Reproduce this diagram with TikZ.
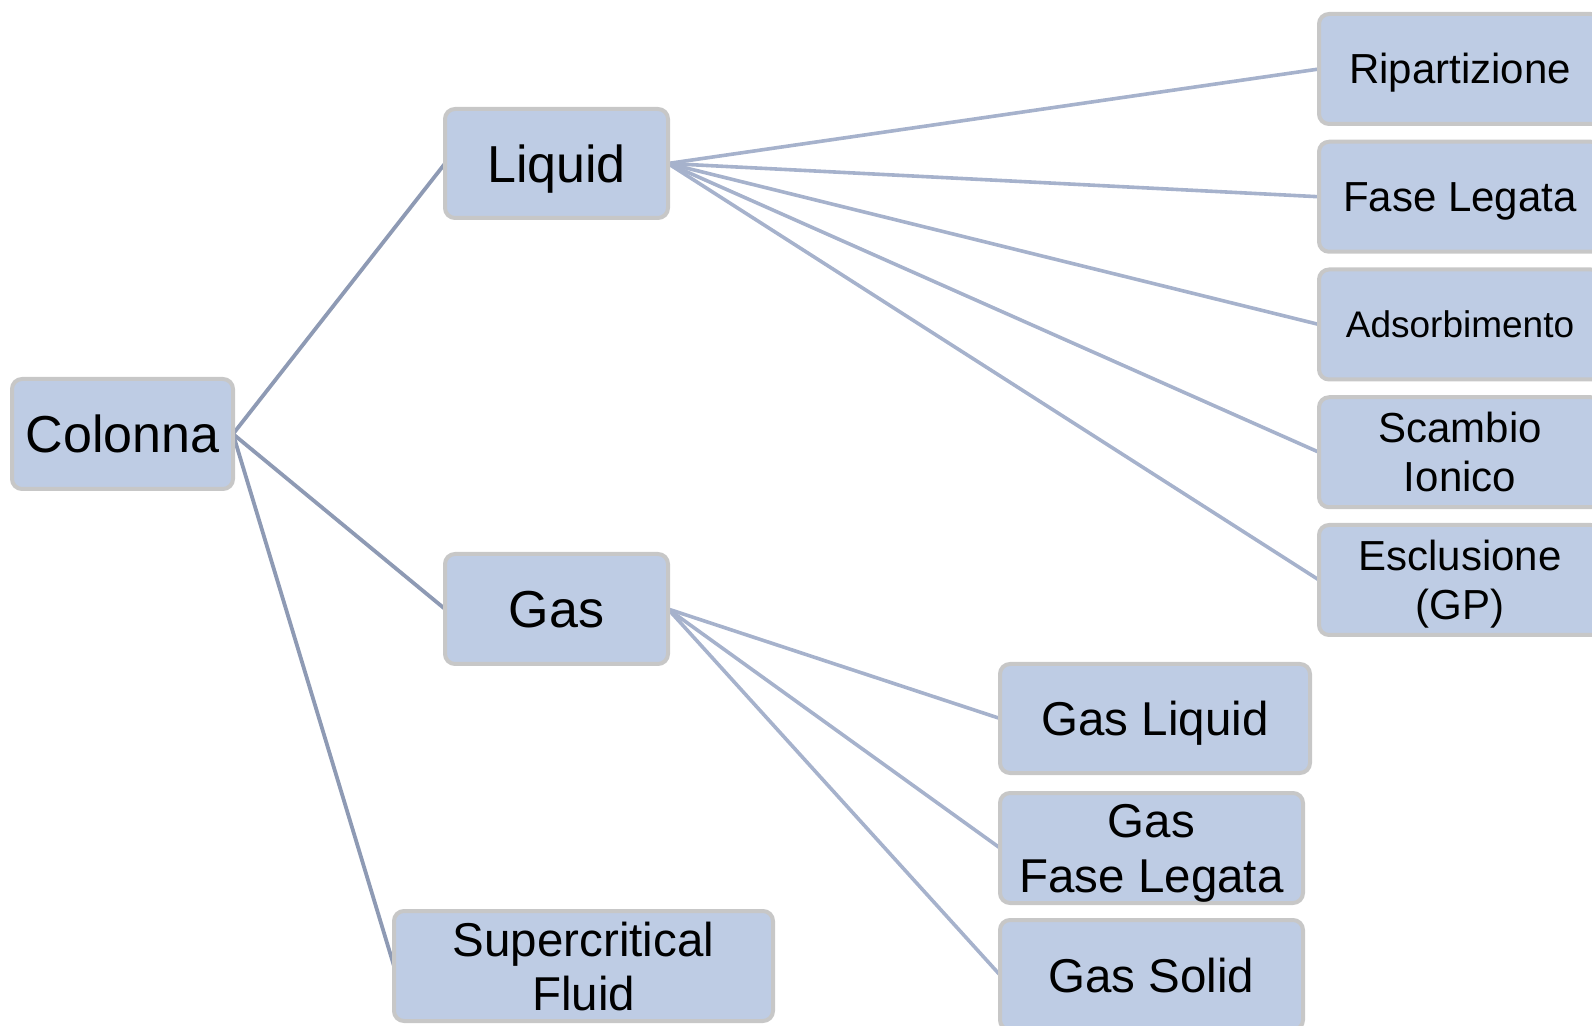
\documentclass[tikz,border=0pt]{standalone}
\usepackage{fontspec}
\setmainfont{Liberation Sans}
\pgfdeclarelayer{background}
\pgfsetlayers{background,main}
\definecolor{boxfill}{RGB}{190,204,228}
\definecolor{boxline}{RGB}{199,199,199}
\definecolor{linkdark}{RGB}{142,154,180}
\definecolor{linklight}{RGB}{166,178,204}
\tikzset{
  box/.style={draw=boxline, line width=2pt, fill=boxfill, rounded corners=5pt,
    inner sep=0pt, outer sep=0pt, align=center, text=black},
  fbig/.style={font=\fontsize{26}{30}\selectfont, text height=18.6pt, text depth=0pt},
  fmid/.style={font=\fontsize{23.75}{27.5}\selectfont, text height=17pt, text depth=0pt},
  fsmall/.style={font=\fontsize{21}{24.5}\selectfont, text height=15pt, text depth=0pt},
  ftiny/.style={font=\fontsize{18.5}{22}\selectfont, text height=13.25pt, text depth=0pt},
  linkA/.style={draw=linkdark, line width=1.9pt},
  linkB/.style={draw=linklight, line width=1.8pt},
}
\begin{document}
\begin{tikzpicture}[x=0.5pt, y=-0.5pt]
\path[use as bounding box] (0,0) rectangle (1592,1026);
\clip (0,0) rectangle (1592,1026);
% level 0
\node[box, fbig, minimum width=110.5pt, minimum height=55pt] (col) at (122.5,434) {Colonna};
% level 1
\node[box, fbig, minimum width=111.5pt, minimum height=54.5pt] (liq) at (556.5,163.5) {Liquid};
\node[box, fbig, minimum width=111.5pt, minimum height=55pt] (gas) at (556.5,609) {Gas};
\node[box, fmid, font=\fontsize{23.75}{27}\selectfont, text height=44pt, minimum width=189.5pt, minimum height=55pt] (scf) at (583.5,966) {Supercritical\\Fluid};
% liquid children
\node[box, fsmall, minimum width=141pt, minimum height=55pt] (rip) at (1460,69) {Ripartizione};
\node[box, fsmall, minimum width=141pt, minimum height=55pt] (fas) at (1460,196.75) {Fase Legata};
\node[box, ftiny, minimum width=141pt, minimum height=55pt] (ads) at (1460,324.5) {Adsorbimento};
\node[box, fsmall, text height=39.5pt, minimum width=141pt, minimum height=55pt] (sca) at (1460,452.25) {Scambio\\Ionico};
\node[box, fsmall, text height=39.5pt, minimum width=141pt, minimum height=55pt] (esc) at (1460,580) {Esclusione\\(GP)};
% gas children
\node[box, fmid, minimum width=155pt, minimum height=54.5pt] (gl) at (1155,718.5) {Gas Liquid};
\node[box, fmid, text height=44.5pt, minimum width=151.5pt, minimum height=55pt] (gfl) at (1151.5,848) {Gas\\Fase Legata};
\node[box, fmid, minimum width=151.5pt, minimum height=55pt] (gs) at (1151.5,975) {Gas Solid};
\begin{pgfonlayer}{background}
\draw[linkA] (col.east) -- (liq.west);
\draw[linkA] (col.east) -- (gas.west);
\draw[linkA] (col.east) -- (scf.west);
\draw[linkB] (liq.east) -- (rip.west);
\draw[linkB] (liq.east) -- (fas.west);
\draw[linkB] (liq.east) -- (ads.west);
\draw[linkB] (liq.east) -- (sca.west);
\draw[linkB] (liq.east) -- (esc.west);
\draw[linkB] (gas.east) -- (gl.west);
\draw[linkB] (gas.east) -- (gfl.west);
\draw[linkB] (gas.east) -- (gs.west);
\end{pgfonlayer}
\end{tikzpicture}
\end{document}
